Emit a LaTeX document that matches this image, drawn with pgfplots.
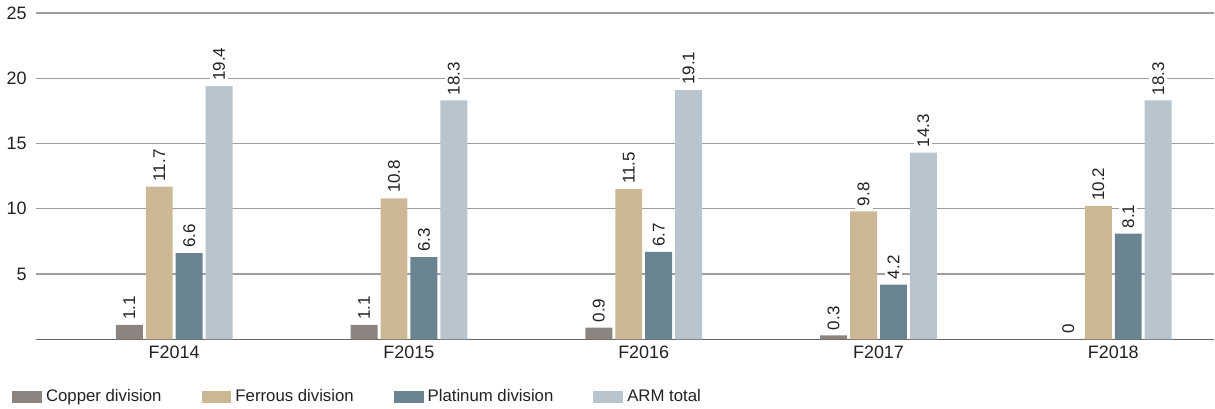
\documentclass[border=0pt]{standalone}
\usepackage{pgfplots}
\pgfplotsset{compat=1.18}
\usepackage{fontspec}
\setmainfont{Liberation Sans}
\definecolor{copper}{HTML}{8C8480}
\definecolor{ferrous}{HTML}{CDB895}
\definecolor{platinum}{HTML}{6B8491}
\definecolor{armtotal}{HTML}{B8C5CF}
\definecolor{txt}{HTML}{222222}
\begin{document}
\begin{tikzpicture}
\begin{axis}[
  scale only axis,
  width=590.5pt, height=163.5pt,
  xmin=-0.59, xmax=4.43,
  ymin=0, ymax=25,
  ytick={5,10,15,20,25},
  xtick={0,1,2,3,4},
  xticklabels={F2014,F2015,F2016,F2017,F2018},
  major tick length=0pt,
  axis y line*=left,
  axis x line*=bottom,
  y axis line style={draw=none},
  x axis line style={draw=black!60, line width=0.8pt},
  ymajorgrids,
  grid style={draw=black!38, line width=0.6pt},
  tick label style={font=\fontsize{9}{10}\selectfont, text=txt},
  /pgf/number format/assume math mode=true,
  yticklabel style={xshift=-1pt},
  ybar=1.5pt,
  bar width=13.5pt,
  nodes near coords,
  every node near coord/.append style={rotate=90, anchor=west, font=\fontsize{8.5}{9}\selectfont, text=txt, fill=white, inner sep=1.5pt, xshift=1pt},
  /pgf/number format/fixed,
  legend columns=4,
  legend style={at={(rel axis cs:0,0)}, anchor=west, xshift=-12pt, yshift=-29pt, draw=none, inner sep=0pt, font=\fontsize{8.4}{10}\selectfont, text=txt,
    /tikz/every even column/.append style={column sep=18pt}},
  legend image code/.code={\fill[#1] (0pt,-3pt) rectangle (15pt,3pt);},
  clip=false,
]
\addplot[fill=copper, draw=none] coordinates {(0,1.1) (1,1.1) (2,0.9) (3,0.3) (4,0)};
\addplot[fill=ferrous, draw=none] coordinates {(0,11.7) (1,10.8) (2,11.5) (3,9.8) (4,10.2)};
\addplot[fill=platinum, draw=none] coordinates {(0,6.6) (1,6.3) (2,6.7) (3,4.2) (4,8.1)};
\addplot[fill=armtotal, draw=none] coordinates {(0,19.4) (1,18.3) (2,19.1) (3,14.3) (4,18.3)};
\legend{Copper division, Ferrous division, Platinum division, ARM total}
\end{axis}
\end{tikzpicture}
\end{document}
